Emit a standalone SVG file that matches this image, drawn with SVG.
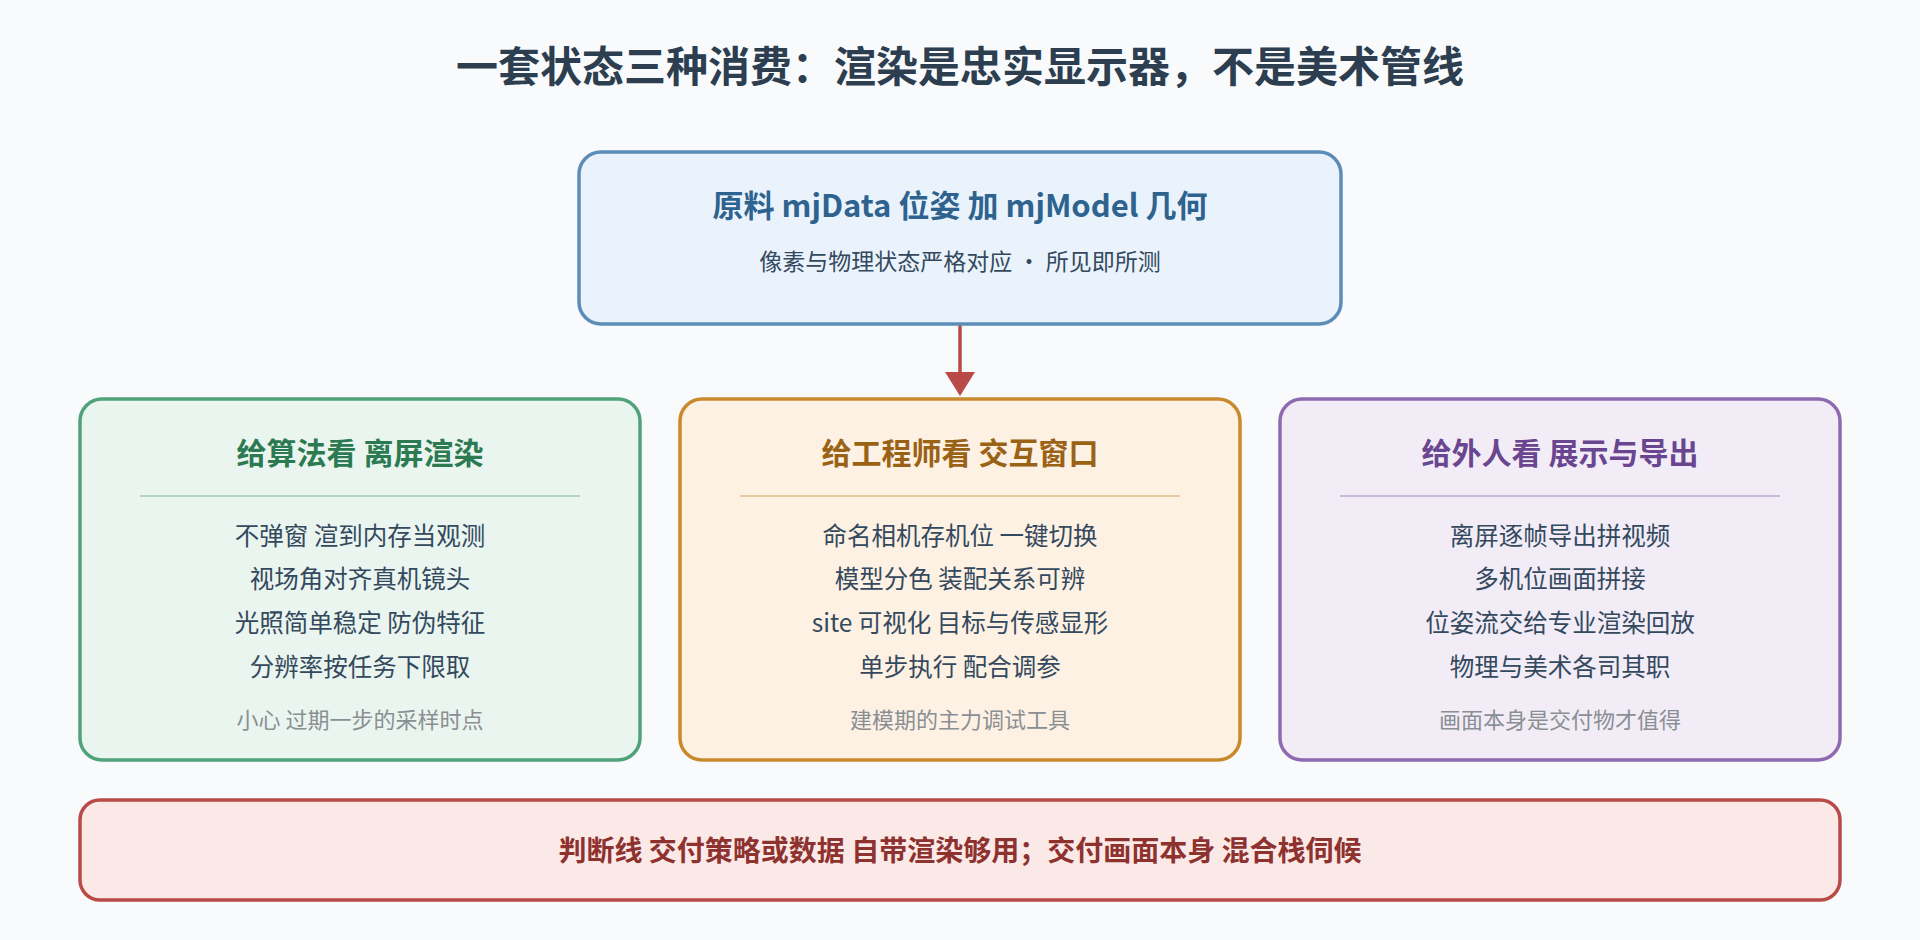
<svg xmlns="http://www.w3.org/2000/svg" width="1920" height="940" viewBox="0 0 1920 940">
<defs>
<style>
text{font-family:"Noto Sans CJK SC","Noto Sans",sans-serif;text-anchor:middle}
.t{font-size:42px;font-weight:bold;fill:#2c3e50}
.h{font-size:30px;font-weight:bold}
.l{font-size:24.5px;fill:#34495e}
.f{font-size:22px;fill:#8a8f94}
.box{stroke-width:3.5}
</style>
</defs>
<rect width="1920" height="940" fill="#f8fafc"/>
<text class="t" x="960" y="82">一套状态三种消费：渲染是忠实显示器，不是美术管线</text>
<g id="connectors">
<line x1="960" y1="325" x2="960" y2="376" stroke="#b94a48" stroke-width="3.5"/>
<path d="M945,372L975,372L960,396z" fill="#b94a48"/>
</g>
<g id="source">
<rect class="box" x="579" y="152" width="762" height="172" rx="22" fill="#eaf3fc" stroke="#5b8db8"/>
<text class="h" x="960" y="217" fill="#2e6390" style="font-size:31px">原料 mjData 位姿 加 mjModel 几何</text>
<text class="l" x="960" y="270" style="font-size:23px">像素与物理状态严格对应 · 所见即所测</text>
</g>
<g id="algo">
<rect class="box" x="80" y="399" width="560" height="361" rx="22" fill="#e9f5ee" stroke="#4fa27a"/>
<text class="h" x="360" y="464" fill="#2c7a52">给算法看 离屏渲染</text>
<line x1="140" y1="496" x2="580" y2="496" stroke="#4fa27a" stroke-opacity="0.5" stroke-width="1.5"/>
<text class="l" x="360" y="545">不弹窗 渲到内存当观测</text>
<text class="l" x="360" y="588">视场角对齐真机镜头</text>
<text class="l" x="360" y="632">光照简单稳定 防伪特征</text>
<text class="l" x="360" y="676">分辨率按任务下限取</text>
<text class="f" x="360" y="728">小心 过期一步的采样时点</text>
</g>
<g id="engineer">
<rect class="box" x="680" y="399" width="560" height="361" rx="22" fill="#fdf1e3" stroke="#c98a2e"/>
<text class="h" x="960" y="464" fill="#9a6215">给工程师看 交互窗口</text>
<line x1="740" y1="496" x2="1180" y2="496" stroke="#c98a2e" stroke-opacity="0.5" stroke-width="1.5"/>
<text class="l" x="960" y="545">命名相机存机位 一键切换</text>
<text class="l" x="960" y="588">模型分色 装配关系可辨</text>
<text class="l" x="960" y="632">site 可视化 目标与传感显形</text>
<text class="l" x="960" y="676">单步执行 配合调参</text>
<text class="f" x="960" y="728">建模期的主力调试工具</text>
</g>
<g id="outsider">
<rect class="box" x="1280" y="399" width="560" height="361" rx="22" fill="#f2ecf7" stroke="#8e6bb0"/>
<text class="h" x="1560" y="464" fill="#6a4590">给外人看 展示与导出</text>
<line x1="1340" y1="496" x2="1780" y2="496" stroke="#8e6bb0" stroke-opacity="0.5" stroke-width="1.5"/>
<text class="l" x="1560" y="545">离屏逐帧导出拼视频</text>
<text class="l" x="1560" y="588">多机位画面拼接</text>
<text class="l" x="1560" y="632">位姿流交给专业渲染回放</text>
<text class="l" x="1560" y="676">物理与美术各司其职</text>
<text class="f" x="1560" y="728">画面本身是交付物才值得</text>
</g>
<g id="judge">
<rect class="box" x="80" y="800" width="1760" height="100" rx="20" fill="#fbe9e8" stroke="#b94a48"/>
<text class="h" x="960" y="861" fill="#8e322f" style="font-size:28px">判断线 交付策略或数据 自带渲染够用；交付画面本身 混合栈伺候</text>
</g>
</svg>
